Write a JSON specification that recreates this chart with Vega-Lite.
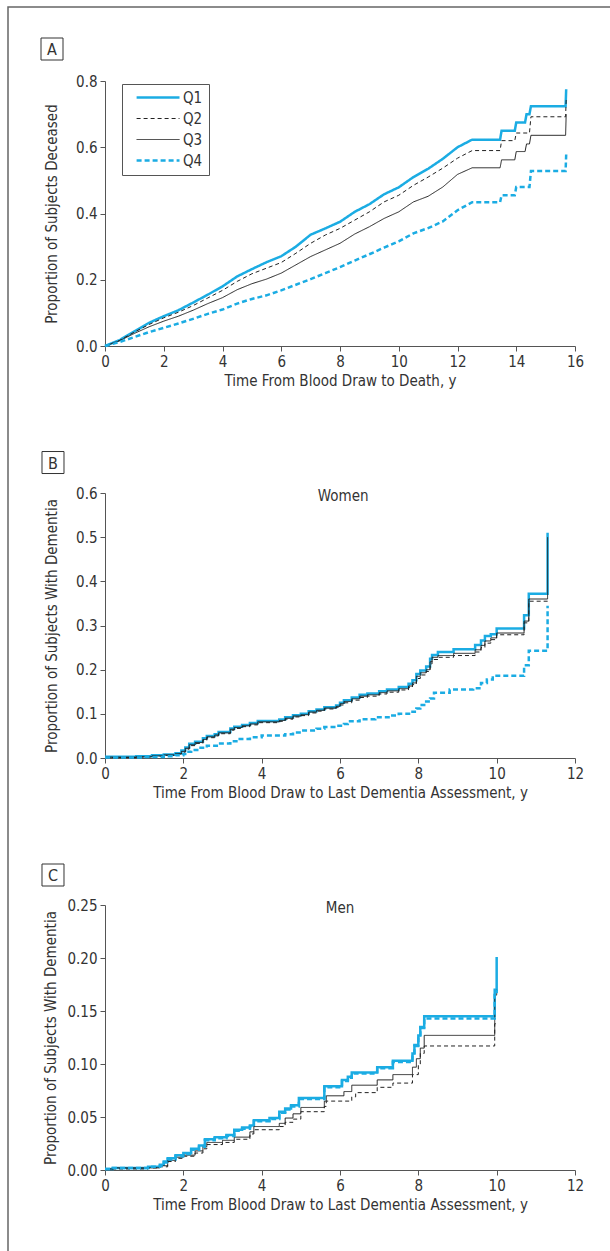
{
"$schema": "https://vega.github.io/schema/vega-lite/v6.json",
"background": "white",
"padding": {"left": 7, "top": 6, "right": 0, "bottom": 0},
"spacing": 147,
"bounds": "flush",
"datasets": {
"A": [
{"q":"Q1","t":0,"p":0},{"q":"Q1","t":0.5,"p":0.018},{"q":"Q1","t":1,"p":0.044},{"q":"Q1","t":1.5,"p":0.07},{"q":"Q1","t":2,"p":0.09},{"q":"Q1","t":2.5,"p":0.108},{"q":"Q1","t":3,"p":0.131},{"q":"Q1","t":3.5,"p":0.155},{"q":"Q1","t":4,"p":0.18},{"q":"Q1","t":4.5,"p":0.21},{"q":"Q1","t":5,"p":0.232},{"q":"Q1","t":5.5,"p":0.253},{"q":"Q1","t":6,"p":0.271},{"q":"Q1","t":6.5,"p":0.30},{"q":"Q1","t":7,"p":0.336},{"q":"Q1","t":7.5,"p":0.355},{"q":"Q1","t":8,"p":0.375},{"q":"Q1","t":8.5,"p":0.405},{"q":"Q1","t":9,"p":0.428},{"q":"Q1","t":9.5,"p":0.458},{"q":"Q1","t":10,"p":0.479},{"q":"Q1","t":10.5,"p":0.51},{"q":"Q1","t":11,"p":0.535},{"q":"Q1","t":11.5,"p":0.565},{"q":"Q1","t":12,"p":0.60},{"q":"Q1","t":12.5,"p":0.623},{"q":"Q1","t":13.45,"p":0.623},{"q":"Q1","t":13.5,"p":0.65},{"q":"Q1","t":13.95,"p":0.65},{"q":"Q1","t":14.0,"p":0.675},{"q":"Q1","t":14.3,"p":0.675},{"q":"Q1","t":14.35,"p":0.70},{"q":"Q1","t":14.45,"p":0.70},{"q":"Q1","t":14.5,"p":0.724},{"q":"Q1","t":15.68,"p":0.724},{"q":"Q1","t":15.7,"p":0.775},
{"q":"Q2","t":0,"p":0},{"q":"Q2","t":0.5,"p":0.017},{"q":"Q2","t":1,"p":0.042},{"q":"Q2","t":1.5,"p":0.065},{"q":"Q2","t":2,"p":0.085},{"q":"Q2","t":2.5,"p":0.102},{"q":"Q2","t":3,"p":0.122},{"q":"Q2","t":3.5,"p":0.145},{"q":"Q2","t":4,"p":0.168},{"q":"Q2","t":4.5,"p":0.195},{"q":"Q2","t":5,"p":0.218},{"q":"Q2","t":5.5,"p":0.235},{"q":"Q2","t":6,"p":0.252},{"q":"Q2","t":6.5,"p":0.28},{"q":"Q2","t":7,"p":0.31},{"q":"Q2","t":7.5,"p":0.335},{"q":"Q2","t":8,"p":0.355},{"q":"Q2","t":8.5,"p":0.38},{"q":"Q2","t":9,"p":0.405},{"q":"Q2","t":9.5,"p":0.435},{"q":"Q2","t":10,"p":0.455},{"q":"Q2","t":10.5,"p":0.485},{"q":"Q2","t":11,"p":0.51},{"q":"Q2","t":11.5,"p":0.537},{"q":"Q2","t":12,"p":0.567},{"q":"Q2","t":12.5,"p":0.59},{"q":"Q2","t":13.45,"p":0.59},{"q":"Q2","t":13.5,"p":0.62},{"q":"Q2","t":13.95,"p":0.62},{"q":"Q2","t":14.0,"p":0.643},{"q":"Q2","t":14.45,"p":0.643},{"q":"Q2","t":14.5,"p":0.692},{"q":"Q2","t":15.68,"p":0.692},{"q":"Q2","t":15.7,"p":0.745},
{"q":"Q3","t":0,"p":0},{"q":"Q3","t":0.5,"p":0.016},{"q":"Q3","t":1,"p":0.038},{"q":"Q3","t":1.5,"p":0.058},{"q":"Q3","t":2,"p":0.075},{"q":"Q3","t":2.5,"p":0.09},{"q":"Q3","t":3,"p":0.108},{"q":"Q3","t":3.5,"p":0.128},{"q":"Q3","t":4,"p":0.146},{"q":"Q3","t":4.5,"p":0.17},{"q":"Q3","t":5,"p":0.188},{"q":"Q3","t":5.5,"p":0.202},{"q":"Q3","t":6,"p":0.22},{"q":"Q3","t":6.5,"p":0.245},{"q":"Q3","t":7,"p":0.27},{"q":"Q3","t":7.5,"p":0.29},{"q":"Q3","t":8,"p":0.31},{"q":"Q3","t":8.5,"p":0.338},{"q":"Q3","t":9,"p":0.36},{"q":"Q3","t":9.5,"p":0.385},{"q":"Q3","t":10,"p":0.405},{"q":"Q3","t":10.5,"p":0.435},{"q":"Q3","t":11,"p":0.452},{"q":"Q3","t":11.5,"p":0.48},{"q":"Q3","t":12,"p":0.518},{"q":"Q3","t":12.5,"p":0.538},{"q":"Q3","t":13.45,"p":0.538},{"q":"Q3","t":13.5,"p":0.562},{"q":"Q3","t":13.95,"p":0.562},{"q":"Q3","t":14.0,"p":0.587},{"q":"Q3","t":14.3,"p":0.587},{"q":"Q3","t":14.35,"p":0.61},{"q":"Q3","t":14.45,"p":0.61},{"q":"Q3","t":14.5,"p":0.636},{"q":"Q3","t":15.68,"p":0.636},{"q":"Q3","t":15.7,"p":0.70},
{"q":"Q4","t":0,"p":0},{"q":"Q4","t":0.5,"p":0.012},{"q":"Q4","t":1,"p":0.027},{"q":"Q4","t":1.5,"p":0.042},{"q":"Q4","t":2,"p":0.055},{"q":"Q4","t":2.5,"p":0.068},{"q":"Q4","t":3,"p":0.082},{"q":"Q4","t":3.5,"p":0.097},{"q":"Q4","t":4,"p":0.11},{"q":"Q4","t":4.5,"p":0.128},{"q":"Q4","t":5,"p":0.142},{"q":"Q4","t":5.5,"p":0.153},{"q":"Q4","t":6,"p":0.168},{"q":"Q4","t":6.5,"p":0.185},{"q":"Q4","t":7,"p":0.202},{"q":"Q4","t":7.5,"p":0.22},{"q":"Q4","t":8,"p":0.238},{"q":"Q4","t":8.5,"p":0.258},{"q":"Q4","t":9,"p":0.277},{"q":"Q4","t":9.5,"p":0.297},{"q":"Q4","t":10,"p":0.316},{"q":"Q4","t":10.5,"p":0.34},{"q":"Q4","t":11,"p":0.356},{"q":"Q4","t":11.5,"p":0.376},{"q":"Q4","t":12,"p":0.41},{"q":"Q4","t":12.5,"p":0.434},{"q":"Q4","t":13.45,"p":0.434},{"q":"Q4","t":13.5,"p":0.455},{"q":"Q4","t":13.95,"p":0.455},{"q":"Q4","t":14.0,"p":0.48},{"q":"Q4","t":14.45,"p":0.48},{"q":"Q4","t":14.5,"p":0.528},{"q":"Q4","t":15.68,"p":0.528},{"q":"Q4","t":15.7,"p":0.578}
],
"B": [
{"q":"Q1","t":0,"p":0.003},{"q":"Q1","t":0.8,"p":0.004},{"q":"Q1","t":1.2,"p":0.006},{"q":"Q1","t":1.5,"p":0.008},{"q":"Q1","t":1.8,"p":0.011},{"q":"Q1","t":1.95,"p":0.017},{"q":"Q1","t":2.05,"p":0.024},{"q":"Q1","t":2.15,"p":0.032},{"q":"Q1","t":2.3,"p":0.037},{"q":"Q1","t":2.5,"p":0.045},{"q":"Q1","t":2.6,"p":0.05},{"q":"Q1","t":2.8,"p":0.054},{"q":"Q1","t":2.9,"p":0.059},{"q":"Q1","t":3.2,"p":0.067},{"q":"Q1","t":3.3,"p":0.071},{"q":"Q1","t":3.5,"p":0.075},{"q":"Q1","t":3.7,"p":0.079},{"q":"Q1","t":3.9,"p":0.084},{"q":"Q1","t":4.45,"p":0.087},{"q":"Q1","t":4.6,"p":0.092},{"q":"Q1","t":4.8,"p":0.097},{"q":"Q1","t":5.0,"p":0.1},{"q":"Q1","t":5.2,"p":0.106},{"q":"Q1","t":5.4,"p":0.11},{"q":"Q1","t":5.6,"p":0.115},{"q":"Q1","t":5.9,"p":0.119},{"q":"Q1","t":6.0,"p":0.125},{"q":"Q1","t":6.1,"p":0.131},{"q":"Q1","t":6.3,"p":0.137},{"q":"Q1","t":6.5,"p":0.143},{"q":"Q1","t":6.7,"p":0.146},{"q":"Q1","t":7.0,"p":0.151},{"q":"Q1","t":7.2,"p":0.155},{"q":"Q1","t":7.5,"p":0.161},{"q":"Q1","t":7.75,"p":0.168},{"q":"Q1","t":7.85,"p":0.176},{"q":"Q1","t":7.95,"p":0.19},{"q":"Q1","t":8.05,"p":0.198},{"q":"Q1","t":8.2,"p":0.207},{"q":"Q1","t":8.3,"p":0.225},{"q":"Q1","t":8.35,"p":0.233},{"q":"Q1","t":8.5,"p":0.24},{"q":"Q1","t":8.9,"p":0.246},{"q":"Q1","t":9.45,"p":0.256},{"q":"Q1","t":9.6,"p":0.266},{"q":"Q1","t":9.7,"p":0.276},{"q":"Q1","t":9.85,"p":0.28},{"q":"Q1","t":10.0,"p":0.293},{"q":"Q1","t":10.7,"p":0.323},{"q":"Q1","t":10.82,"p":0.372},{"q":"Q1","t":11.3,"p":0.51},
{"q":"Q2","t":0,"p":0.001},{"q":"Q2","t":0.8,"p":0.002},{"q":"Q2","t":1.2,"p":0.004},{"q":"Q2","t":1.5,"p":0.006},{"q":"Q2","t":1.8,"p":0.009},{"q":"Q2","t":1.95,"p":0.013},{"q":"Q2","t":2.05,"p":0.02},{"q":"Q2","t":2.15,"p":0.028},{"q":"Q2","t":2.3,"p":0.033},{"q":"Q2","t":2.5,"p":0.04},{"q":"Q2","t":2.6,"p":0.046},{"q":"Q2","t":2.8,"p":0.05},{"q":"Q2","t":2.9,"p":0.055},{"q":"Q2","t":3.2,"p":0.063},{"q":"Q2","t":3.3,"p":0.067},{"q":"Q2","t":3.5,"p":0.071},{"q":"Q2","t":3.7,"p":0.075},{"q":"Q2","t":3.9,"p":0.08},{"q":"Q2","t":4.45,"p":0.083},{"q":"Q2","t":4.6,"p":0.088},{"q":"Q2","t":4.8,"p":0.093},{"q":"Q2","t":5.0,"p":0.096},{"q":"Q2","t":5.2,"p":0.102},{"q":"Q2","t":5.4,"p":0.106},{"q":"Q2","t":5.6,"p":0.111},{"q":"Q2","t":5.9,"p":0.115},{"q":"Q2","t":6.0,"p":0.12},{"q":"Q2","t":6.1,"p":0.125},{"q":"Q2","t":6.3,"p":0.131},{"q":"Q2","t":6.5,"p":0.137},{"q":"Q2","t":6.7,"p":0.14},{"q":"Q2","t":7.0,"p":0.145},{"q":"Q2","t":7.2,"p":0.149},{"q":"Q2","t":7.5,"p":0.154},{"q":"Q2","t":7.75,"p":0.16},{"q":"Q2","t":7.85,"p":0.166},{"q":"Q2","t":7.95,"p":0.18},{"q":"Q2","t":8.05,"p":0.188},{"q":"Q2","t":8.2,"p":0.196},{"q":"Q2","t":8.3,"p":0.213},{"q":"Q2","t":8.35,"p":0.223},{"q":"Q2","t":8.5,"p":0.228},{"q":"Q2","t":8.9,"p":0.232},{"q":"Q2","t":9.45,"p":0.24},{"q":"Q2","t":9.6,"p":0.25},{"q":"Q2","t":9.7,"p":0.26},{"q":"Q2","t":9.85,"p":0.268},{"q":"Q2","t":10.0,"p":0.279},{"q":"Q2","t":10.7,"p":0.306},{"q":"Q2","t":10.82,"p":0.355},{"q":"Q2","t":11.3,"p":0.36},
{"q":"Q3","t":0,"p":0.002},{"q":"Q3","t":0.8,"p":0.003},{"q":"Q3","t":1.2,"p":0.005},{"q":"Q3","t":1.5,"p":0.007},{"q":"Q3","t":1.8,"p":0.01},{"q":"Q3","t":1.95,"p":0.015},{"q":"Q3","t":2.05,"p":0.022},{"q":"Q3","t":2.15,"p":0.03},{"q":"Q3","t":2.3,"p":0.035},{"q":"Q3","t":2.5,"p":0.042},{"q":"Q3","t":2.6,"p":0.048},{"q":"Q3","t":2.8,"p":0.052},{"q":"Q3","t":2.9,"p":0.057},{"q":"Q3","t":3.2,"p":0.065},{"q":"Q3","t":3.3,"p":0.069},{"q":"Q3","t":3.5,"p":0.073},{"q":"Q3","t":3.7,"p":0.077},{"q":"Q3","t":3.9,"p":0.082},{"q":"Q3","t":4.45,"p":0.085},{"q":"Q3","t":4.6,"p":0.09},{"q":"Q3","t":4.8,"p":0.095},{"q":"Q3","t":5.0,"p":0.098},{"q":"Q3","t":5.2,"p":0.104},{"q":"Q3","t":5.4,"p":0.108},{"q":"Q3","t":5.6,"p":0.113},{"q":"Q3","t":5.9,"p":0.117},{"q":"Q3","t":6.0,"p":0.123},{"q":"Q3","t":6.1,"p":0.128},{"q":"Q3","t":6.3,"p":0.134},{"q":"Q3","t":6.5,"p":0.14},{"q":"Q3","t":6.7,"p":0.143},{"q":"Q3","t":7.0,"p":0.148},{"q":"Q3","t":7.2,"p":0.152},{"q":"Q3","t":7.5,"p":0.157},{"q":"Q3","t":7.75,"p":0.163},{"q":"Q3","t":7.85,"p":0.17},{"q":"Q3","t":7.95,"p":0.185},{"q":"Q3","t":8.05,"p":0.193},{"q":"Q3","t":8.2,"p":0.2},{"q":"Q3","t":8.3,"p":0.218},{"q":"Q3","t":8.35,"p":0.228},{"q":"Q3","t":8.5,"p":0.232},{"q":"Q3","t":8.9,"p":0.237},{"q":"Q3","t":9.45,"p":0.245},{"q":"Q3","t":9.6,"p":0.255},{"q":"Q3","t":9.7,"p":0.265},{"q":"Q3","t":9.85,"p":0.272},{"q":"Q3","t":10.0,"p":0.283},{"q":"Q3","t":10.7,"p":0.31},{"q":"Q3","t":10.82,"p":0.36},{"q":"Q3","t":11.3,"p":0.50},
{"q":"Q4","t":0,"p":0.001},{"q":"Q4","t":1.0,"p":0.002},{"q":"Q4","t":1.5,"p":0.004},{"q":"Q4","t":1.8,"p":0.006},{"q":"Q4","t":2.0,"p":0.009},{"q":"Q4","t":2.1,"p":0.014},{"q":"Q4","t":2.2,"p":0.018},{"q":"Q4","t":2.4,"p":0.023},{"q":"Q4","t":2.6,"p":0.028},{"q":"Q4","t":2.9,"p":0.033},{"q":"Q4","t":3.2,"p":0.038},{"q":"Q4","t":3.4,"p":0.043},{"q":"Q4","t":3.7,"p":0.047},{"q":"Q4","t":4.0,"p":0.051},{"q":"Q4","t":4.6,"p":0.054},{"q":"Q4","t":4.8,"p":0.058},{"q":"Q4","t":5.0,"p":0.062},{"q":"Q4","t":5.4,"p":0.066},{"q":"Q4","t":5.6,"p":0.07},{"q":"Q4","t":5.9,"p":0.073},{"q":"Q4","t":6.1,"p":0.077},{"q":"Q4","t":6.2,"p":0.083},{"q":"Q4","t":6.5,"p":0.088},{"q":"Q4","t":6.9,"p":0.092},{"q":"Q4","t":7.3,"p":0.096},{"q":"Q4","t":7.5,"p":0.1},{"q":"Q4","t":7.85,"p":0.105},{"q":"Q4","t":7.95,"p":0.112},{"q":"Q4","t":8.05,"p":0.12},{"q":"Q4","t":8.2,"p":0.128},{"q":"Q4","t":8.3,"p":0.135},{"q":"Q4","t":8.4,"p":0.148},{"q":"Q4","t":8.8,"p":0.155},{"q":"Q4","t":9.4,"p":0.158},{"q":"Q4","t":9.6,"p":0.17},{"q":"Q4","t":9.75,"p":0.178},{"q":"Q4","t":9.9,"p":0.186},{"q":"Q4","t":10.7,"p":0.21},{"q":"Q4","t":10.82,"p":0.243},{"q":"Q4","t":11.3,"p":0.345}
],
"C": [
{"q":"Q1","t":0,"p":0.001},{"q":"Q1","t":0.2,"p":0.002},{"q":"Q1","t":1.1,"p":0.003},{"q":"Q1","t":1.4,"p":0.005},{"q":"Q1","t":1.5,"p":0.008},{"q":"Q1","t":1.6,"p":0.011},{"q":"Q1","t":1.8,"p":0.014},{"q":"Q1","t":2.0,"p":0.016},{"q":"Q1","t":2.2,"p":0.02},{"q":"Q1","t":2.4,"p":0.023},{"q":"Q1","t":2.55,"p":0.029},{"q":"Q1","t":2.8,"p":0.031},{"q":"Q1","t":3.1,"p":0.033},{"q":"Q1","t":3.3,"p":0.038},{"q":"Q1","t":3.5,"p":0.04},{"q":"Q1","t":3.7,"p":0.042},{"q":"Q1","t":3.8,"p":0.047},{"q":"Q1","t":4.2,"p":0.049},{"q":"Q1","t":4.45,"p":0.055},{"q":"Q1","t":4.6,"p":0.058},{"q":"Q1","t":4.75,"p":0.061},{"q":"Q1","t":4.95,"p":0.068},{"q":"Q1","t":5.6,"p":0.079},{"q":"Q1","t":6.05,"p":0.085},{"q":"Q1","t":6.2,"p":0.088},{"q":"Q1","t":6.3,"p":0.092},{"q":"Q1","t":6.95,"p":0.097},{"q":"Q1","t":7.35,"p":0.103},{"q":"Q1","t":7.85,"p":0.11},{"q":"Q1","t":7.9,"p":0.118},{"q":"Q1","t":8.0,"p":0.127},{"q":"Q1","t":8.05,"p":0.135},{"q":"Q1","t":8.15,"p":0.145},{"q":"Q1","t":9.95,"p":0.17},{"q":"Q1","t":10.0,"p":0.201},
{"q":"Q2","t":0,"p":0.001},{"q":"Q2","t":0.2,"p":0.001},{"q":"Q2","t":1.1,"p":0.002},{"q":"Q2","t":1.4,"p":0.003},{"q":"Q2","t":1.6,"p":0.008},{"q":"Q2","t":1.8,"p":0.011},{"q":"Q2","t":2.0,"p":0.013},{"q":"Q2","t":2.3,"p":0.016},{"q":"Q2","t":2.5,"p":0.02},{"q":"Q2","t":2.6,"p":0.024},{"q":"Q2","t":3.0,"p":0.026},{"q":"Q2","t":3.3,"p":0.029},{"q":"Q2","t":3.7,"p":0.034},{"q":"Q2","t":3.8,"p":0.038},{"q":"Q2","t":4.45,"p":0.041},{"q":"Q2","t":4.6,"p":0.045},{"q":"Q2","t":4.8,"p":0.048},{"q":"Q2","t":5.0,"p":0.055},{"q":"Q2","t":5.6,"p":0.06},{"q":"Q2","t":5.65,"p":0.065},{"q":"Q2","t":6.3,"p":0.069},{"q":"Q2","t":6.4,"p":0.073},{"q":"Q2","t":6.95,"p":0.078},{"q":"Q2","t":7.35,"p":0.082},{"q":"Q2","t":7.85,"p":0.09},{"q":"Q2","t":8.0,"p":0.1},{"q":"Q2","t":8.05,"p":0.11},{"q":"Q2","t":8.15,"p":0.117},{"q":"Q2","t":9.95,"p":0.138},{"q":"Q2","t":10.0,"p":0.14},
{"q":"Q3","t":0,"p":0.001},{"q":"Q3","t":0.2,"p":0.002},{"q":"Q3","t":1.1,"p":0.002},{"q":"Q3","t":1.4,"p":0.004},{"q":"Q3","t":1.6,"p":0.009},{"q":"Q3","t":1.8,"p":0.012},{"q":"Q3","t":2.0,"p":0.014},{"q":"Q3","t":2.3,"p":0.018},{"q":"Q3","t":2.5,"p":0.022},{"q":"Q3","t":2.6,"p":0.026},{"q":"Q3","t":3.0,"p":0.028},{"q":"Q3","t":3.3,"p":0.031},{"q":"Q3","t":3.7,"p":0.036},{"q":"Q3","t":3.8,"p":0.041},{"q":"Q3","t":4.45,"p":0.044},{"q":"Q3","t":4.6,"p":0.049},{"q":"Q3","t":4.8,"p":0.053},{"q":"Q3","t":5.0,"p":0.059},{"q":"Q3","t":5.6,"p":0.065},{"q":"Q3","t":5.65,"p":0.07},{"q":"Q3","t":6.1,"p":0.074},{"q":"Q3","t":6.3,"p":0.08},{"q":"Q3","t":6.95,"p":0.085},{"q":"Q3","t":7.35,"p":0.09},{"q":"Q3","t":7.85,"p":0.097},{"q":"Q3","t":7.95,"p":0.105},{"q":"Q3","t":8.05,"p":0.115},{"q":"Q3","t":8.15,"p":0.127},{"q":"Q3","t":9.95,"p":0.165},{"q":"Q3","t":10.0,"p":0.17},
{"q":"Q4","t":0,"p":0.001},{"q":"Q4","t":0.2,"p":0.002},{"q":"Q4","t":1.1,"p":0.003},{"q":"Q4","t":1.4,"p":0.004},{"q":"Q4","t":1.5,"p":0.007},{"q":"Q4","t":1.6,"p":0.01},{"q":"Q4","t":1.8,"p":0.013},{"q":"Q4","t":2.0,"p":0.015},{"q":"Q4","t":2.2,"p":0.019},{"q":"Q4","t":2.4,"p":0.022},{"q":"Q4","t":2.55,"p":0.028},{"q":"Q4","t":2.8,"p":0.03},{"q":"Q4","t":3.1,"p":0.032},{"q":"Q4","t":3.3,"p":0.037},{"q":"Q4","t":3.5,"p":0.039},{"q":"Q4","t":3.7,"p":0.041},{"q":"Q4","t":3.8,"p":0.046},{"q":"Q4","t":4.2,"p":0.048},{"q":"Q4","t":4.45,"p":0.054},{"q":"Q4","t":4.6,"p":0.057},{"q":"Q4","t":4.75,"p":0.06},{"q":"Q4","t":4.95,"p":0.067},{"q":"Q4","t":5.6,"p":0.078},{"q":"Q4","t":6.05,"p":0.084},{"q":"Q4","t":6.2,"p":0.087},{"q":"Q4","t":6.3,"p":0.091},{"q":"Q4","t":6.95,"p":0.096},{"q":"Q4","t":7.35,"p":0.102},{"q":"Q4","t":7.85,"p":0.109},{"q":"Q4","t":7.9,"p":0.117},{"q":"Q4","t":8.0,"p":0.126},{"q":"Q4","t":8.05,"p":0.134},{"q":"Q4","t":8.15,"p":0.143},{"q":"Q4","t":9.95,"p":0.168},{"q":"Q4","t":10.0,"p":0.17}
]
},
"vconcat": [
{
"width": 470, "height": 265,
"layer": [
{"data": {"name": "A"}, "mark": {"type": "line", "interpolate": "linear", "strokeCap": "butt"},
 "encoding": {
  "x": {"field": "t", "type": "quantitative", "scale": {"domain": [0, 16], "nice": false}, "axis": {"values": [0,2,4,6,8,10,12,14,16], "title": "Time From Blood Draw to Death, y", "titlePadding": 4}},
  "y": {"field": "p", "type": "quantitative", "scale": {"domain": [0, 0.8], "nice": false}, "axis": {"values": [0,0.2,0.4,0.6,0.8], "format": ".1f", "title": "Proportion of Subjects Deceased", "titlePadding": 16}},
  "color": {"field": "q", "type": "nominal", "scale": {"domain": ["Q1","Q2","Q3","Q4"], "range": ["#1BACE3","#222222","#222222","#1BACE3"]},
   "legend": {"orient": "none", "legendX": 17, "legendY": 3, "title": null, "strokeColor": "#555", "fillColor": "white", "padding": 6, "symbolType": "M0.2,0H8", "symbolSize": 121, "labelFontSize": 15, "labelColor": "#333", "labelOffset": 40, "rowPadding": 5, "labelExpr": "datum.label + '  '"}},
  "strokeDash": {"field": "q", "type": "nominal", "scale": {"domain": ["Q1","Q2","Q3","Q4"], "range": [[1,0],[4,3],[1,0],[5,3]]}, "legend": {"orient": "none", "legendX": 17, "legendY": 3, "title": null}},
  "strokeWidth": {"field": "q", "type": "nominal", "scale": {"type": "ordinal", "domain": ["Q1","Q2","Q3","Q4"], "range": [2.5,1,1,2.5]}, "legend": {"orient": "none", "legendX": 17, "legendY": 3, "title": null}}
 }},
{"data": {"values": [{}]}, "mark": {"type": "rect", "filled": false, "stroke": "#666", "strokeWidth": 1.5},
 "encoding": {"x": {"datum": -3.302, "type": "quantitative"}, "x2": {"datum": 17.5}, "y": {"datum": 1.0234, "type": "quantitative"}, "y2": {"datum": -3.2}}},
{"data": {"values": [{}]}, "mark": {"type": "point", "shape": "square", "size": 484, "filled": false, "stroke": "#333", "strokeWidth": 1, "opacity": 1},
 "encoding": {"x": {"datum": -1.804, "type": "quantitative"}, "y": {"datum": 0.8966, "type": "quantitative"}}},
{"data": {"values": [{}]}, "mark": {"type": "text", "text": "A", "fontSize": 16, "color": "#333", "baseline": "middle", "align": "center", "dy": 1},
 "encoding": {"x": {"datum": -1.804, "type": "quantitative"}, "y": {"datum": 0.8966, "type": "quantitative"}}}
]
},
{
"width": 470, "height": 265,
"layer": [
{"data": {"name": "B"}, "mark": {"type": "line", "interpolate": "step-after", "strokeCap": "butt"},
 "encoding": {
  "x": {"field": "t", "type": "quantitative", "scale": {"domain": [0, 12], "nice": false}, "axis": {"values": [0,2,4,6,8,10,12], "title": "Time From Blood Draw to Last Dementia Assessment, y", "titlePadding": 4}},
  "y": {"field": "p", "type": "quantitative", "scale": {"domain": [0, 0.6], "nice": false}, "axis": {"values": [0,0.1,0.2,0.3,0.4,0.5,0.6], "format": ".1f", "title": "Proportion of Subjects With Dementia", "titlePadding": 16}},
  "color": {"field": "q", "type": "nominal", "scale": {"domain": ["Q1","Q2","Q3","Q4"], "range": ["#1BACE3","#222222","#222222","#1BACE3"]}, "legend": null},
  "strokeDash": {"field": "q", "type": "nominal", "scale": {"domain": ["Q1","Q2","Q3","Q4"], "range": [[1,0],[4,3],[1,0],[5,3]]}, "legend": null},
  "strokeWidth": {"field": "q", "type": "nominal", "scale": {"type": "ordinal", "domain": ["Q1","Q2","Q3","Q4"], "range": [2.5,1,1,2.5]}, "legend": null}
 }},
{"data": {"values": [{}]}, "mark": {"type": "point", "shape": "square", "size": 484, "filled": false, "stroke": "#333", "strokeWidth": 1, "opacity": 1},
 "encoding": {"x": {"datum": -1.328, "type": "quantitative"}, "y": {"datum": 0.669, "type": "quantitative"}}},
{"data": {"values": [{}]}, "mark": {"type": "text", "text": "B", "fontSize": 16, "color": "#333", "baseline": "middle", "align": "center", "dy": 1},
 "encoding": {"x": {"datum": -1.328, "type": "quantitative"}, "y": {"datum": 0.669, "type": "quantitative"}}},
{"data": {"values": [{}]}, "mark": {"type": "text", "text": "Women", "fontSize": 15, "color": "#333", "baseline": "middle", "align": "center", "dy": 3},
 "encoding": {"x": {"datum": 6.08, "type": "quantitative"}, "y": {"datum": 0.6, "type": "quantitative"}}}
]
},
{
"width": 470, "height": 265,
"layer": [
{"data": {"name": "C"}, "mark": {"type": "line", "interpolate": "step-after", "strokeCap": "butt"},
 "encoding": {
  "x": {"field": "t", "type": "quantitative", "scale": {"domain": [0, 12], "nice": false}, "axis": {"values": [0,2,4,6,8,10,12], "title": "Time From Blood Draw to Last Dementia Assessment, y", "titlePadding": 4}},
  "y": {"field": "p", "type": "quantitative", "scale": {"domain": [0, 0.25], "nice": false}, "axis": {"values": [0,0.05,0.1,0.15,0.2,0.25], "format": ".2f", "title": "Proportion of Subjects With Dementia", "titlePadding": 8}},
  "color": {"field": "q", "type": "nominal", "scale": {"domain": ["Q1","Q2","Q3","Q4"], "range": ["#1BACE3","#222222","#222222","#1BACE3"]}, "legend": null},
  "strokeDash": {"field": "q", "type": "nominal", "scale": {"domain": ["Q1","Q2","Q3","Q4"], "range": [[1,0],[4,3],[1,0],[5,3]]}, "legend": null},
  "strokeWidth": {"field": "q", "type": "nominal", "scale": {"type": "ordinal", "domain": ["Q1","Q2","Q3","Q4"], "range": [2.5,1,1,2.5]}, "legend": null}
 }},
{"data": {"values": [{}]}, "mark": {"type": "point", "shape": "square", "size": 484, "filled": false, "stroke": "#333", "strokeWidth": 1, "opacity": 1},
 "encoding": {"x": {"datum": -1.328, "type": "quantitative"}, "y": {"datum": 0.2783, "type": "quantitative"}}},
{"data": {"values": [{}]}, "mark": {"type": "text", "text": "C", "fontSize": 16, "color": "#333", "baseline": "middle", "align": "center", "dy": 1},
 "encoding": {"x": {"datum": -1.328, "type": "quantitative"}, "y": {"datum": 0.2783, "type": "quantitative"}}},
{"data": {"values": [{}]}, "mark": {"type": "text", "text": "Men", "fontSize": 15, "color": "#333", "baseline": "middle", "align": "center", "dy": 3},
 "encoding": {"x": {"datum": 6.0, "type": "quantitative"}, "y": {"datum": 0.25, "type": "quantitative"}}}
]
}
],
"resolve": {"scale": {"x": "independent", "y": "independent", "color": "independent", "strokeDash": "independent", "strokeWidth": "independent"}, "legend": {"color": "independent", "strokeDash": "independent", "strokeWidth": "independent"}},
"config": {
 "view": {"stroke": null},
 "font": "DejaVu Sans Condensed",
 "text": {"font": "DejaVu Sans Condensed"},
 "legend": {"labelFont": "DejaVu Sans Condensed"},
 "axis": {"grid": false, "labelFlush": false, "domainColor": "#555", "tickColor": "#555", "labelColor": "#333", "titleColor": "#333", "labelFont": "DejaVu Sans Condensed", "titleFont": "DejaVu Sans Condensed", "labelFontSize": 15, "titleFontSize": 15, "titleFontWeight": "normal", "tickSize": 5, "labelPadding": 3, "domainWidth": 1, "tickWidth": 1}
}
}
